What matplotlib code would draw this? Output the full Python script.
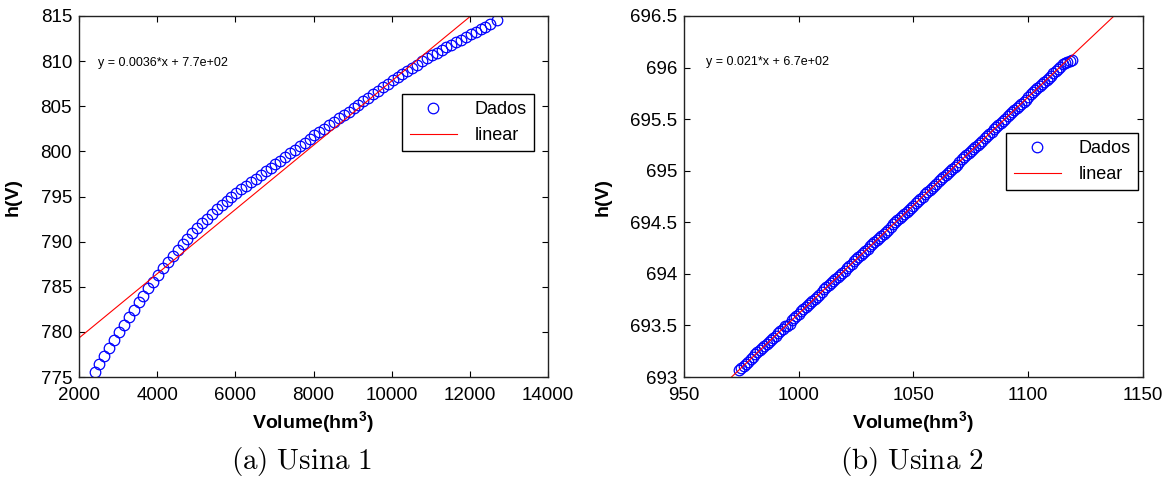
import matplotlib
matplotlib.use("Agg")
import numpy as np
import matplotlib.pyplot as plt
from matplotlib.ticker import FuncFormatter

plt.rcParams['font.family'] = ['Liberation Sans', 'DejaVu Sans']
plt.rcParams['mathtext.fontset'] = 'custom'
plt.rcParams['mathtext.rm'] = 'Liberation Sans'
plt.rcParams['mathtext.bf'] = 'Liberation Sans:bold'

# Usina 1: volume (hm3) x cota (m)
vol1 = [2400, 2525, 2650, 2775, 2900, 3025, 3150, 3275, 3400, 3525,
        3650, 3775, 3900, 4025, 4150, 4275, 4400, 4525, 4650, 4775,
        4900, 5025, 5150, 5275, 5400, 5525, 5650, 5775, 5900, 6025,
        6150, 6275, 6400, 6525, 6650, 6775, 6900, 7025, 7150, 7275,
        7400, 7525, 7650, 7775, 7900, 8025, 8150, 8275, 8400, 8525,
        8650, 8775, 8900, 9025, 9150, 9275, 9400, 9525, 9650, 9775,
        9900, 10025, 10150, 10275, 10400, 10525, 10650, 10775, 10900, 11025,
        11150, 11275, 11400, 11525, 11650, 11775, 11900, 12025, 12150, 12275,
        12400, 12525, 12700]
h1 = [775.60, 776.48, 777.35, 778.23, 779.10, 779.97, 780.79, 781.62, 782.44, 783.26,
      784.03, 784.81, 785.58, 786.34, 787.04, 787.74, 788.44, 789.12, 789.72, 790.32,
      790.92, 791.51, 792.03, 792.56, 793.08, 793.59, 794.04, 794.49, 794.94, 795.38,
      795.78, 796.18, 796.58, 796.98, 797.38, 797.78, 798.18, 798.58, 798.98, 799.38,
      799.78, 800.18, 800.58, 800.98, 801.38, 801.78, 802.15, 802.53, 802.90, 803.28,
      803.65, 804.03, 804.40, 804.78, 805.17, 805.55, 805.94, 806.33, 806.72, 807.10,
      807.49, 807.87, 808.22, 808.57, 808.92, 809.27, 809.62, 809.97, 810.32, 810.66,
      810.95, 811.23, 811.52, 811.81, 812.10, 812.38, 812.67, 812.96, 813.25, 813.53,
      813.82, 814.11, 814.51]
fit1 = [0.00356, 772.2]   # slope, intercept of the linear fit
eq1 = 'y = 0.0036*x + 7.7e+02'

# Usina 2
vol2 = [974, 975, 976, 977, 978, 979, 980, 981, 982, 983,
        984, 985, 986, 987, 988, 989, 990, 991, 992, 993,
        994, 995, 996, 997, 998, 999, 1000, 1001, 1002, 1003,
        1004, 1005, 1006, 1007, 1008, 1009, 1010, 1011, 1012, 1013,
        1014, 1015, 1016, 1017, 1018, 1019, 1020, 1021, 1022, 1023,
        1024, 1025, 1026, 1027, 1028, 1029, 1030, 1031, 1032, 1033,
        1034, 1035, 1036, 1037, 1038, 1039, 1040, 1041, 1042, 1043,
        1044, 1045, 1046, 1047, 1048, 1049, 1050, 1051, 1052, 1053,
        1054, 1055, 1056, 1057, 1058, 1059, 1060, 1061, 1062, 1063,
        1064, 1065, 1066, 1067, 1068, 1069, 1070, 1071, 1072, 1073,
        1074, 1075, 1076, 1077, 1078, 1079, 1080, 1081, 1082, 1083,
        1084, 1085, 1086, 1087, 1088, 1089, 1090, 1091, 1092, 1093,
        1094, 1095, 1096, 1097, 1098, 1099, 1100, 1101, 1102, 1103,
        1104, 1105, 1106, 1107, 1108, 1109, 1110, 1111, 1112, 1113,
        1114, 1115, 1116, 1117, 1118, 1119]
h2 = [693.07, 693.09, 693.11, 693.13, 693.15, 693.17, 693.19, 693.22, 693.24, 693.26,
      693.28, 693.30, 693.32, 693.34, 693.36, 693.38, 693.40, 693.43, 693.45, 693.47,
      693.49, 693.49, 693.51, 693.55, 693.57, 693.59, 693.61, 693.64, 693.66, 693.68,
      693.70, 693.72, 693.74, 693.76, 693.78, 693.80, 693.82, 693.85, 693.87, 693.89,
      693.91, 693.93, 693.95, 693.97, 693.99, 694.01, 694.03, 694.06, 694.08, 694.10,
      694.12, 694.14, 694.16, 694.18, 694.20, 694.22, 694.24, 694.27, 694.29, 694.31,
      694.33, 694.35, 694.37, 694.39, 694.41, 694.43, 694.45, 694.48, 694.50, 694.52,
      694.54, 694.56, 694.58, 694.60, 694.62, 694.64, 694.66, 694.69, 694.71, 694.73,
      694.75, 694.77, 694.79, 694.81, 694.83, 694.85, 694.87, 694.90, 694.92, 694.94,
      694.96, 694.98, 695.00, 695.02, 695.04, 695.06, 695.08, 695.11, 695.13, 695.15,
      695.17, 695.19, 695.21, 695.23, 695.25, 695.27, 695.29, 695.32, 695.34, 695.36,
      695.38, 695.40, 695.42, 695.44, 695.46, 695.48, 695.50, 695.53, 695.55, 695.57,
      695.59, 695.61, 695.63, 695.65, 695.67, 695.69, 695.71, 695.74, 695.76, 695.78,
      695.80, 695.82, 695.84, 695.86, 695.88, 695.90, 695.92, 695.95, 695.97, 695.99,
      696.01, 696.03, 696.04, 696.05, 696.06, 696.07]
fit2 = [0.0210, 672.615]
eq2 = 'y = 0.021*x + 6.7e+02'

fig = plt.figure(figsize=(11.7, 4.79), dpi=100)
ax1 = fig.add_axes([0.0675, 0.2129, 0.4009, 0.7537])
ax2 = fig.add_axes([0.5846, 0.2129, 0.3923, 0.7537])


def draw(ax, vol, h, fit, eq, xlim, ylim, xticks, yticks, leg_anchor, eq_pos, ylab_x):
    ax.plot(vol, h, 'o', mfc='none', mec='blue', ms=7.6, mew=0.9, label='Dados')
    xs = np.array(xlim, dtype=float)
    ax.plot(xs, fit[0] * xs + fit[1], color='red', lw=0.8, label='linear')
    ax.set_xlim(xlim)
    ax.set_ylim(ylim)
    ax.set_xticks(xticks)
    ax.set_yticks(yticks)
    ax.yaxis.set_major_formatter(FuncFormatter(lambda v, p: '%g' % v))
    ax.tick_params(direction='in', top=True, right=True, length=4, width=0.8,
                   labelsize=13.5, colors='black')
    ax.tick_params(axis='x', pad=7)
    ax.tick_params(axis='y', pad=5)
    for s in ax.spines.values():
        s.set_linewidth(1.0)
        s.set_color('#222222')
    ax.set_ylabel('h(V)', fontsize=14, fontweight='bold')
    ax.yaxis.set_label_coords(ylab_x, 0.5)
    ax.set_xlabel(r'Volume(hm$^{\mathbf{3}}$)', fontsize=14, fontweight='bold')
    ax.xaxis.set_label_coords(0.5, -0.09)
    ax.text(eq_pos[0], eq_pos[1], eq, transform=ax.transAxes, fontsize=9,
            va='center', ha='left')
    leg = ax.legend(loc='upper right', bbox_to_anchor=leg_anchor, borderaxespad=0,
                    fancybox=False, edgecolor='black', fontsize=13,
                    handlelength=2.6, handletextpad=1.0, framealpha=1)
    leg.get_frame().set_linewidth(1.0)


draw(ax1, vol1, h1, fit1, eq1, (2000, 14000), (775, 815),
     range(2000, 14001, 2000), range(775, 816, 5),
     (0.970, 0.784), (0.0405, 0.870), -0.1215)
draw(ax2, vol2, h2, fit2, eq2, (950, 1150), (693, 696.5),
     range(950, 1151, 50), np.arange(693, 696.51, 0.5),
     (0.989, 0.676), (0.048, 0.873), -0.157)

fig.text(0.258, 0.036, r'$\mathrm{(a)\ Usina\ 1}$', math_fontfamily='cm',
         fontsize=21, ha='center', va='center')
fig.text(0.779, 0.036, r'$\mathrm{(b)\ Usina\ 2}$', math_fontfamily='cm',
         fontsize=21, ha='center', va='center')

fig.savefig('out.png', dpi=100)
